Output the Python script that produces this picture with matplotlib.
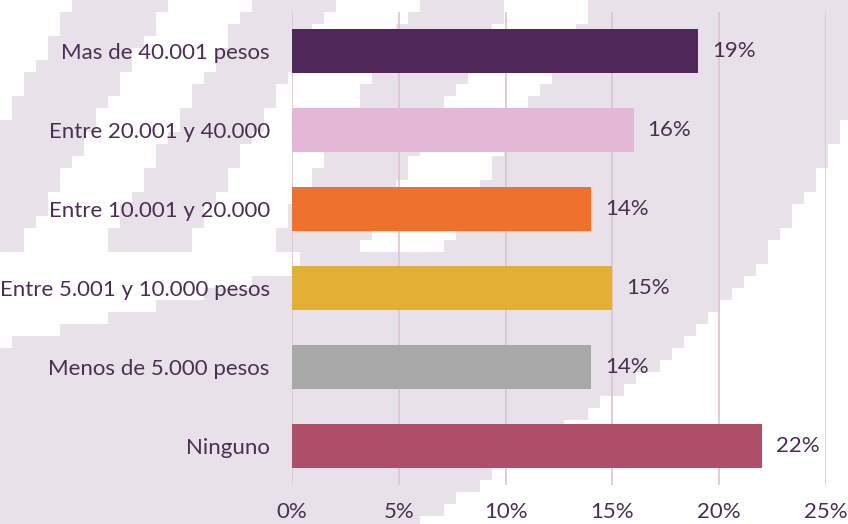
import numpy as np
import matplotlib.pyplot as plt

categories = ["Mas de 40.001 pesos", "Entre 20.001 y 40.000", "Entre 10.001 y 20.000",
              "Entre 5.001 y 10.000 pesos", "Menos de 5.000 pesos", "Ninguno"]
values = [19, 16, 14, 15, 14, 22]
bar_colors = ["#4f2758", "#e2b8d6", "#f0702d", "#e3b035", "#a8a8a8", "#ae4e68"]
xticks = [0, 5, 10, 15, 20, 25]

txt_color = "#4a2f52"
lav = np.array([233, 225, 233]) / 255.0
white = np.array([1.0, 1.0, 1.0])

plt.rcParams['font.family'] = ['Lato', 'DejaVu Sans']

W, H = 848, 524
fig = plt.figure(figsize=(W / 100, H / 100), dpi=100)

# pixelated decorative background (blocks of 12 px), row 0 = top of figure
blk = 12
ny, nx = H // blk + 1, W // blk + 1
cy, cx = np.mgrid[0:ny, 0:nx]
px = (cx + 0.5) * blk
py = (cy + 0.5) * blk
u = px + 0.6 * py
is_white = (u < 75) | ((u >= 170) & (u < 250)) | ((u >= 335) & (u < 420)) | ((u >= 510) & (u < 595))
is_white &= py < 250
is_white |= (py >= 250) & (py < 345 - 0.25 * px) & (px < 300)
edge_x = np.interp(py, [0, 130, 262, 362, 470, 530], [900, 844, 764, 664, 500, 410])
is_white |= px > edge_x

img = np.where(is_white[..., None], white, lav)
full = np.repeat(np.repeat(img, blk, axis=0), blk, axis=1)[:H, :W]
fig.figimage(full, 0, 0, origin='upper', zorder=0)

ax = fig.add_axes([292 / W, 39 / H, 534 / W, 473 / H], zorder=1)
ax.patch.set_alpha(0)
y = np.arange(len(categories))
ax.barh(y, values, height=0.56, color=bar_colors, zorder=3)
for yi, v in zip(y, values):
    ax.annotate(f"{v}%", (v, yi), xytext=(10, 0), textcoords='offset points',
                va='center', ha='left', fontsize=16, color=txt_color)

ax.set_xlim(0, 25)
ax.set_ylim(5.5, -0.5)
ax.set_xticks(xticks)
ax.set_xticklabels([f"{t}%" for t in xticks])
ax.set_yticks(y)
ax.set_yticklabels(categories)
ax.grid(axis='x', color='#dcc3d2', lw=1.2)
ax.set_axisbelow(True)
ax.tick_params(axis='x', length=0, pad=12, labelsize=16, labelcolor=txt_color)
ax.tick_params(axis='y', length=0, pad=16, labelsize=16, labelcolor=txt_color)
for s in ax.spines.values():
    s.set_visible(False)

fig.savefig("out.png", dpi=100)
